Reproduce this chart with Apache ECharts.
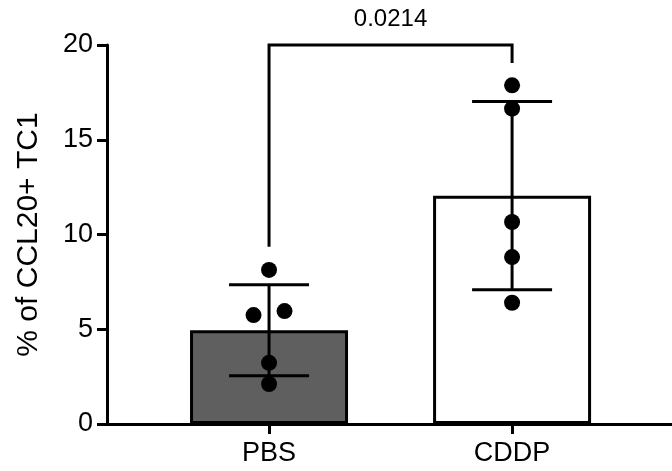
<!DOCTYPE html>
<html>
<head>
<meta charset="utf-8">
<script src="https://cdn.jsdelivr.net/npm/echarts@6/dist/echarts.min.js"></script>
<style>html,body{margin:0;padding:0;background:#fff}#c{width:672px;height:471px}</style>
</head>
<body>
<div id="c"></div>
<script>
const categories = ['PBS', 'CDDP'];
const means = [4.95, 12.05];
const sds = [2.4, 4.97];
const pbsPoints = [8.13, 5.75, 5.96, 3.23, 2.11];
const cddpPoints = [17.87, 16.64, 10.66, 8.81, 6.40];
const yTicks = [0, 5, 10, 15, 20];
const yLabel = '% of CCL20+ TC1';
const pValue = '0.0214';
const bracketLegs = [9.35, 19.05];

const FONT = 'Arial, "Liberation Sans", Helvetica, sans-serif';
const groups = [pbsPoints, cddpPoints];
const barColors = ['#5f5f5f', '#ffffff'];

// simple beeswarm: spread points closer than a threshold sideways (pixel offsets)
const dotData = [];
groups.forEach((pts, gi) => {
  const sorted = pts.map((v, i) => ({ v, i })).sort((a, b) => a.v - b.v);
  const offs = new Array(pts.length).fill(0);
  for (let k = 0; k < sorted.length - 1; k++) {
    if (Math.abs(sorted[k + 1].v - sorted[k].v) < 0.8 && offs[sorted[k].i] === 0) {
      offs[sorted[k].i] = -1;
      offs[sorted[k + 1].i] = 1;
      k++;
    }
  }
  pts.forEach((v, i) => dotData.push([gi + 1, v, offs[i]]));
});

const chart = echarts.init(document.getElementById('c'));
chart.setOption({
  animation: false,
  grid: { left: 107, right: 0, top: 45, bottom: 47 },
  xAxis: {
    type: 'value', min: 0.3333, max: 2.658,
    splitLine: { show: false },
    axisLine: { show: true, onZero: false, lineStyle: { color: '#000', width: 3 } },
    axisTick: { show: true, customValues: [1, 2], length: 10, lineStyle: { color: '#000', width: 3 } },
    axisLabel: {
      customValues: [1, 2], margin: 16,
      formatter: v => categories[Math.round(v) - 1] || '',
      color: '#000', fontSize: 27, fontFamily: FONT
    }
  },
  yAxis: {
    type: 'value', min: 0, max: 20, interval: 5,
    name: yLabel, nameLocation: 'middle', nameGap: 63,
    nameTextStyle: { color: '#000', fontSize: 30, fontFamily: FONT },
    splitLine: { show: false },
    axisLine: { show: true, lineStyle: { color: '#000', width: 3 } },
    axisTick: { show: true, length: 10, lineStyle: { color: '#000', width: 3 } },
    axisLabel: { color: '#000', fontSize: 27, fontFamily: FONT, margin: 14,
      formatter: v => yTicks.includes(v) ? String(v) : '' }
  },
  series: [
    {
      type: 'bar', barWidth: 158, z: 2,
      data: means.map((m, i) => ({ value: [i + 1, m],
        itemStyle: { color: barColors[i], borderColor: '#000', borderWidth: 3 } }))
    },
    {
      type: 'custom', z: 3,
      data: means.map((m, i) => [i + 1, m - sds[i], m + sds[i]]),
      renderItem: (params, api) => {
        const lo = api.coord([api.value(0), api.value(1)]);
        const hi = api.coord([api.value(0), api.value(2)]);
        const hw = 40;
        const st = { stroke: '#000', lineWidth: 3 };
        return { type: 'group', children: [
          { type: 'line', shape: { x1: lo[0], y1: lo[1], x2: hi[0], y2: hi[1] }, style: st },
          { type: 'line', shape: { x1: lo[0] - hw, y1: lo[1], x2: lo[0] + hw, y2: lo[1] }, style: st },
          { type: 'line', shape: { x1: hi[0] - hw, y1: hi[1], x2: hi[0] + hw, y2: hi[1] }, style: st }
        ] };
      }
    },
    {
      type: 'custom', z: 4,
      data: dotData,
      renderItem: (params, api) => {
        const p = api.coord([api.value(0), api.value(1)]);
        return { type: 'circle', shape: { cx: p[0] + api.value(2) * 15.5, cy: p[1], r: 8 },
          style: { fill: '#000' } };
      }
    },
    {
      type: 'custom', z: 5, clip: false,
      data: [[1, 2, bracketLegs[0], bracketLegs[1], 20]],
      renderItem: (params, api) => {
        const a = api.coord([api.value(0), api.value(2)]);
        const aTop = api.coord([api.value(0), api.value(4)]);
        const b = api.coord([api.value(1), api.value(3)]);
        const bTop = api.coord([api.value(1), api.value(4)]);
        return { type: 'group', children: [
          { type: 'polyline', shape: { points: [a, aTop, bTop, b] },
            style: { stroke: '#000', lineWidth: 3, fill: null } },
          { type: 'text', style: { text: pValue, x: (aTop[0] + bTop[0]) / 2, y: aTop[1] - 26,
            align: 'center', verticalAlign: 'middle', fill: '#000', fontSize: 24, fontFamily: FONT } }
        ] };
      }
    }
  ]
});
</script>
</body>
</html>
